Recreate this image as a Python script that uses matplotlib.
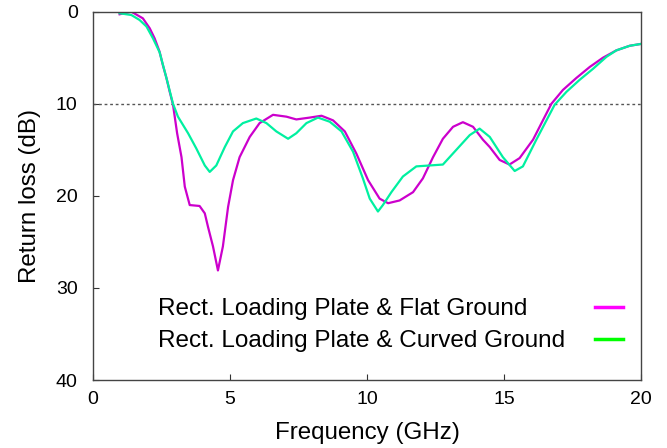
import matplotlib
matplotlib.use("Agg")
import matplotlib.pyplot as plt
from matplotlib.lines import Line2D

plt.rcParams['font.family'] = ['Liberation Sans', 'DejaVu Sans']

# flat ground (magenta)
flat_f = [0.97, 1.4, 1.82, 2.07, 2.25, 2.43, 2.55, 2.68, 2.8, 2.92, 3.07, 3.23, 3.35, 3.53,
          3.89, 4.08, 4.2, 4.38, 4.56, 4.74, 4.93, 5.11, 5.35, 5.72, 6.08, 6.57, 7.06,
          7.42, 7.91, 8.34, 8.76, 9.19, 9.61, 10.04, 10.46, 10.77, 11.19, 11.68, 12.04,
          12.41, 12.77, 13.14, 13.5, 13.87, 14.23, 14.48, 14.84, 15.2, 15.57, 16.06,
          16.42, 16.73, 17.15, 17.64, 18.13, 18.61, 19.1, 19.59, 20.0]
flat_db = [0.28, 0.0, 0.72, 1.8, 2.9, 4.35, 5.8, 7.2, 8.7, 10.1, 13.2, 15.8, 19.0, 21.0,
           21.1, 21.9, 23.4, 25.5, 28.1, 25.5, 21.2, 18.3, 15.8, 13.6, 12.1, 11.2, 11.4,
           11.7, 11.5, 11.3, 11.8, 13.0, 15.4, 18.3, 20.3, 20.8, 20.5, 19.6, 18.1,
           15.8, 13.8, 12.5, 12.0, 12.5, 13.9, 14.7, 16.1, 16.6, 15.9, 13.9,
           11.8, 10.0, 8.5, 7.2, 6.0, 5.0, 4.2, 3.7, 3.5]

# curved ground (green)
curved_f = [0.97, 1.4, 1.7, 1.95, 2.19, 2.43, 2.68, 2.92, 3.1, 3.47, 3.77, 4.08, 4.26,
            4.5, 4.81, 5.11, 5.47, 5.96, 6.33, 6.69, 7.12, 7.42, 7.79, 8.21, 8.64, 9.07,
            9.49, 9.85, 10.1, 10.4, 10.58, 10.89, 11.31, 11.8, 12.29, 12.77, 13.26,
            13.75, 14.11, 14.48, 14.96, 15.39, 15.69, 16.18, 16.55, 16.85, 17.28, 17.76,
            18.25, 18.74, 19.1, 19.59, 20.0]
curved_db = [0.17, 0.36, 0.9, 1.6, 2.9, 4.4, 7.2, 10.0, 11.4, 13.2, 14.85, 16.7, 17.4,
             16.7, 14.7, 13.0, 12.1, 11.6, 12.1, 13.0, 13.8, 13.2, 12.1, 11.5, 11.95, 13.0,
             15.2, 18.1, 20.3, 21.7, 21.0, 19.6, 17.9, 16.8, 16.7, 16.6, 15.0,
             13.4, 12.7, 13.6, 15.8, 17.3, 16.8, 13.9, 11.8, 10.1, 8.7, 7.4,
             6.2, 4.9, 4.2, 3.7, 3.5]

labels = ['Rect. Loading Plate & Flat Ground', 'Rect. Loading Plate & Curved Ground']
threshold = 10

fig = plt.figure(figsize=(6.67, 4.48), dpi=100)
ax = fig.add_axes([93 / 667, 1 - 380 / 448, 548 / 667, 368.3 / 448])

ax.axhline(threshold, color='#555555', lw=1, ls=(0, (2, 2)))
ax.plot(flat_f, flat_db, color='#cc00cc', lw=1.6)
ax.plot(curved_f, curved_db, color='#00f0a0', lw=1.6)

ax.set_xlim(0, 20)
ax.set_ylim(40, 0)
ax.set_xticks([0, 5, 10, 15, 20])
ax.set_yticks([0, 10, 20, 30, 40])
ax.tick_params(direction='in', length=4, width=0.8, labelsize=14, pad=8,
               colors='#333333', labelcolor='black')
ax.tick_params(axis='y', pad=11)
for s in ax.spines.values():
    s.set_color('#444444')
    s.set_linewidth(1)

ax.set_xlabel('Frequency (GHz)', fontsize=17.4, labelpad=10)
ax.set_ylabel('Return loss (dB)', fontsize=17.4, labelpad=11)

# gnuplot style key: text on the left, samples in a column on the right
leg_kw = dict(loc='center left', frameon=False, fontsize=17.5, borderpad=0,
              borderaxespad=0, labelspacing=0.41)
blank = [Line2D([], [], color='none') for _ in labels]
key_text = ax.legend(blank, labels, bbox_to_anchor=(0.119, 0.1493),
                     handlelength=0, handletextpad=0, **leg_kw)
ax.add_artist(key_text)
samples = [Line2D([], [], color='#ff00ff', lw=2.5),
           Line2D([], [], color='#00ff00', lw=2.5)]
ax.legend(samples, [' ', ' '], bbox_to_anchor=(0.916, 0.1493),
          handlelength=1.15, handletextpad=0, **leg_kw)

fig.savefig('out.png', dpi=100)
